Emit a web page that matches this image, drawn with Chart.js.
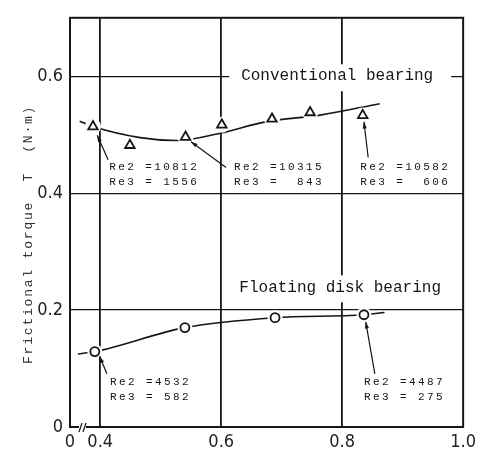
<!DOCTYPE html>
<html lang="en">
<head>
    <meta charset="UTF-8">
    <title>Frictional torque</title>
    <script src="https://cdn.jsdelivr.net/npm/chart.js"></script>
    <style>
        body { margin: 0; background: #fff; }
        #torqueChart { display: block; }
    </style>
</head>
<body>
    <canvas id="torqueChart" width="481" height="459"></canvas>

    <script>
        // axis ticks (the x axis is broken: 0 sits at the left edge)
        const xTicks = [0.35, 0.4, 0.6, 0.8, 1.0];
        const xTickLabels = ['0', '0.4', '0.6', '0.8', '1.0'];
        const yTicks = [0, 0.2, 0.4, 0.6];
        const yTickLabels = ['0', '0.2', '0.4', '0.6'];

        // conventional bearing (triangles)
        const convX = [0.388, 0.449, 0.541, 0.601, 0.684, 0.747, 0.834];
        const convT = [0.514, 0.482, 0.496, 0.517, 0.527, 0.538, 0.533];
        const convFitX = [0.366, 0.388, 0.466, 0.526, 0.600, 0.673, 0.766, 0.862];
        const convFitT = [0.523, 0.514, 0.495, 0.490, 0.503, 0.522, 0.534, 0.553];

        // floating disk bearing (circles)
        const floatX = [0.391, 0.540, 0.689, 0.836];
        const floatT = [0.129, 0.170, 0.187, 0.192];
        const floatFitX = [0.363, 0.391, 0.540, 0.689, 0.836, 0.870];
        const floatFitT = [0.125, 0.129, 0.170, 0.187, 0.192, 0.196];

        // Reynolds number notes
        const reNotes = [
            ['Re2 =10812', 'Re3 = 1556'],
            ['Re2 =10315', 'Re3 =  843'],
            ['Re2 =10582', 'Re3 =  606'],
            ['Re2 =4532', 'Re3 = 582'],
            ['Re2 =4487', 'Re3 = 275']
        ];
        const reNoteAt = [[0.415, 0.444], [0.621, 0.444], [0.830, 0.444], [0.416, 0.076], [0.836, 0.076]];
        const arrowFrom = [[0.413, 0.457], [0.608, 0.444], [0.843, 0.461], [0.411, 0.091], [0.854, 0.091]];
        const arrowTo = [[0.395, 0.499], [0.550, 0.488], [0.836, 0.522], [0.399, 0.121], [0.839, 0.180]];

        const curveNames = ['Conventional bearing', 'Floating disk bearing'];
        const curveNameAt = [[0.633, 0.6], [0.630, 0.239]];

        const pts = (xs, ys) => xs.map((v, i) => ({ x: v, y: ys[i] }));

        const mono = '"Liberation Mono", "DejaVu Sans Mono", monospace';
        const narrow = '"DejaVu Sans Condensed", "Liberation Sans Narrow", "Liberation Sans", sans-serif';
        const ink = '#161616';

        // frame, axis break, labels and arrows
        const overlay = {
            id: 'overlay',
            afterDatasetsDraw(chart) {
                const { ctx, chartArea: a, scales: { x, y } } = chart;
                ctx.save();
                ctx.strokeStyle = ink;
                ctx.fillStyle = ink;

                ctx.lineWidth = 2;
                ctx.strokeRect(a.left, a.top, a.right - a.left, a.bottom - a.top);

                // axis break mark
                const bx = a.left + 12;
                ctx.fillStyle = '#fff';
                ctx.fillRect(bx - 3, a.bottom - 2, 7, 5);
                ctx.lineWidth = 1.2;
                ctx.beginPath();
                ctx.moveTo(bx - 3, a.bottom + 5); ctx.lineTo(bx, a.bottom - 4);
                ctx.moveTo(bx + 1, a.bottom + 5); ctx.lineTo(bx + 4, a.bottom - 4);
                ctx.stroke();

                // curve names on white boxes
                ctx.font = '16px ' + mono;
                ctx.textBaseline = 'middle';
                ctx.textAlign = 'left';
                curveNames.forEach((t, i) => {
                    const px = x.getPixelForValue(curveNameAt[i][0]);
                    const py = y.getPixelForValue(curveNameAt[i][1]);
                    const w = ctx.measureText(t).width;
                    ctx.fillStyle = '#fff';
                    ctx.fillRect(px - 12, py - 12, w + 30, 27);
                    ctx.fillStyle = ink;
                    ctx.fillText(t, px, py);
                });

                // Re notes
                ctx.font = '11px ' + mono;
                ctx.letterSpacing = '2.4px';
                reNotes.forEach((lines, i) => {
                    const px = x.getPixelForValue(reNoteAt[i][0]);
                    const py = y.getPixelForValue(reNoteAt[i][1]);
                    lines.forEach((t, j) => ctx.fillText(t, px, py + j * 15));
                });
                ctx.letterSpacing = '0px';

                // arrows
                ctx.lineWidth = 1.2;
                arrowFrom.forEach((f, i) => {
                    const x0 = x.getPixelForValue(f[0]), y0 = y.getPixelForValue(f[1]);
                    const x1 = x.getPixelForValue(arrowTo[i][0]), y1 = y.getPixelForValue(arrowTo[i][1]);
                    ctx.beginPath();
                    ctx.moveTo(x0, y0); ctx.lineTo(x1, y1);
                    ctx.stroke();
                    const ang = Math.atan2(y1 - y0, x1 - x0);
                    ctx.beginPath();
                    ctx.moveTo(x1, y1);
                    ctx.lineTo(x1 - 7 * Math.cos(ang - 0.3), y1 - 7 * Math.sin(ang - 0.3));
                    ctx.lineTo(x1 - 7 * Math.cos(ang + 0.3), y1 - 7 * Math.sin(ang + 0.3));
                    ctx.closePath();
                    ctx.fill();
                });

                // y axis title
                ctx.translate(29, (a.top + a.bottom) / 2 + 12);
                ctx.rotate(-Math.PI / 2);
                ctx.font = '13px ' + mono;
                ctx.letterSpacing = '1.8px';
                ctx.textAlign = 'center';
                ctx.fillStyle = '#333';
                ctx.fillText('Frictional torque  T  (N\u00b7m)', 0, 0);
                ctx.restore();
            }
        };

        const ctx = document.getElementById('torqueChart').getContext('2d');
        new Chart(ctx, {
            type: 'scatter',
            data: {
                datasets: [
                    // markers
                    { data: pts(convX, convT), pointStyle: 'triangle', pointRadius: 5.5, borderWidth: 1.8,
                      borderColor: ink, backgroundColor: '#fff', showLine: false, order: 1 },
                    { data: pts(floatX, floatT), pointStyle: 'circle', pointRadius: 4.5, borderWidth: 1.8,
                      borderColor: ink, backgroundColor: '#fff', showLine: false, order: 1 },
                    // white masks so the curves break around the markers
                    { data: pts(convX, convT), pointRadius: 8, borderWidth: 0,
                      backgroundColor: '#fff', showLine: false, order: 2 },
                    { data: pts(floatX, floatT), pointRadius: 7.5, borderWidth: 0,
                      backgroundColor: '#fff', showLine: false, order: 2 },
                    // fitted curves
                    { data: pts(convFitX, convFitT), showLine: true, pointRadius: 0, borderWidth: 1.6,
                      borderColor: ink, cubicInterpolationMode: 'monotone', order: 3 },
                    { data: pts(floatFitX, floatFitT), showLine: true, pointRadius: 0, borderWidth: 1.6,
                      borderColor: ink, cubicInterpolationMode: 'monotone', order: 3 }
                ]
            },
            options: {
                responsive: false,
                animation: false,
                layout: { padding: { top: 10, right: 14, left: 0, bottom: 0 } },
                plugins: { legend: { display: false }, tooltip: { enabled: false } },
                scales: {
                    x: {
                        type: 'linear', min: 0.35, max: 1.0,
                        afterBuildTicks: s => { s.ticks = xTicks.map(v => ({ value: v })); },
                        afterFit: s => { s.height = 32; },
                        border: { display: false },
                        grid: {
                            drawTicks: false, tickLength: 0, lineWidth: 1.8,
                            color: c => (c.tick && c.tick.value > 0.36 && c.tick.value < 0.99) ? ink : 'rgba(0,0,0,0)'
                        },
                        ticks: {
                            padding: 5, color: '#222',
                            font: { family: narrow, size: 18 },
                            callback: (v, i) => xTickLabels[i]
                        }
                    },
                    y: {
                        min: 0, max: 0.7,
                        afterBuildTicks: s => { s.ticks = yTicks.map(v => ({ value: v })); },
                        afterFit: s => { s.width = 70; },
                        border: { display: false },
                        grid: {
                            drawTicks: false, tickLength: 0, lineWidth: 1.2,
                            color: c => (c.tick && c.tick.value > 0.01) ? ink : 'rgba(0,0,0,0)'
                        },
                        ticks: {
                            padding: 7, color: '#222',
                            font: { family: narrow, size: 18 },
                            callback: (v, i) => yTickLabels[i]
                        }
                    }
                }
            },
            plugins: [overlay]
        });
    </script>
</body>
</html>
